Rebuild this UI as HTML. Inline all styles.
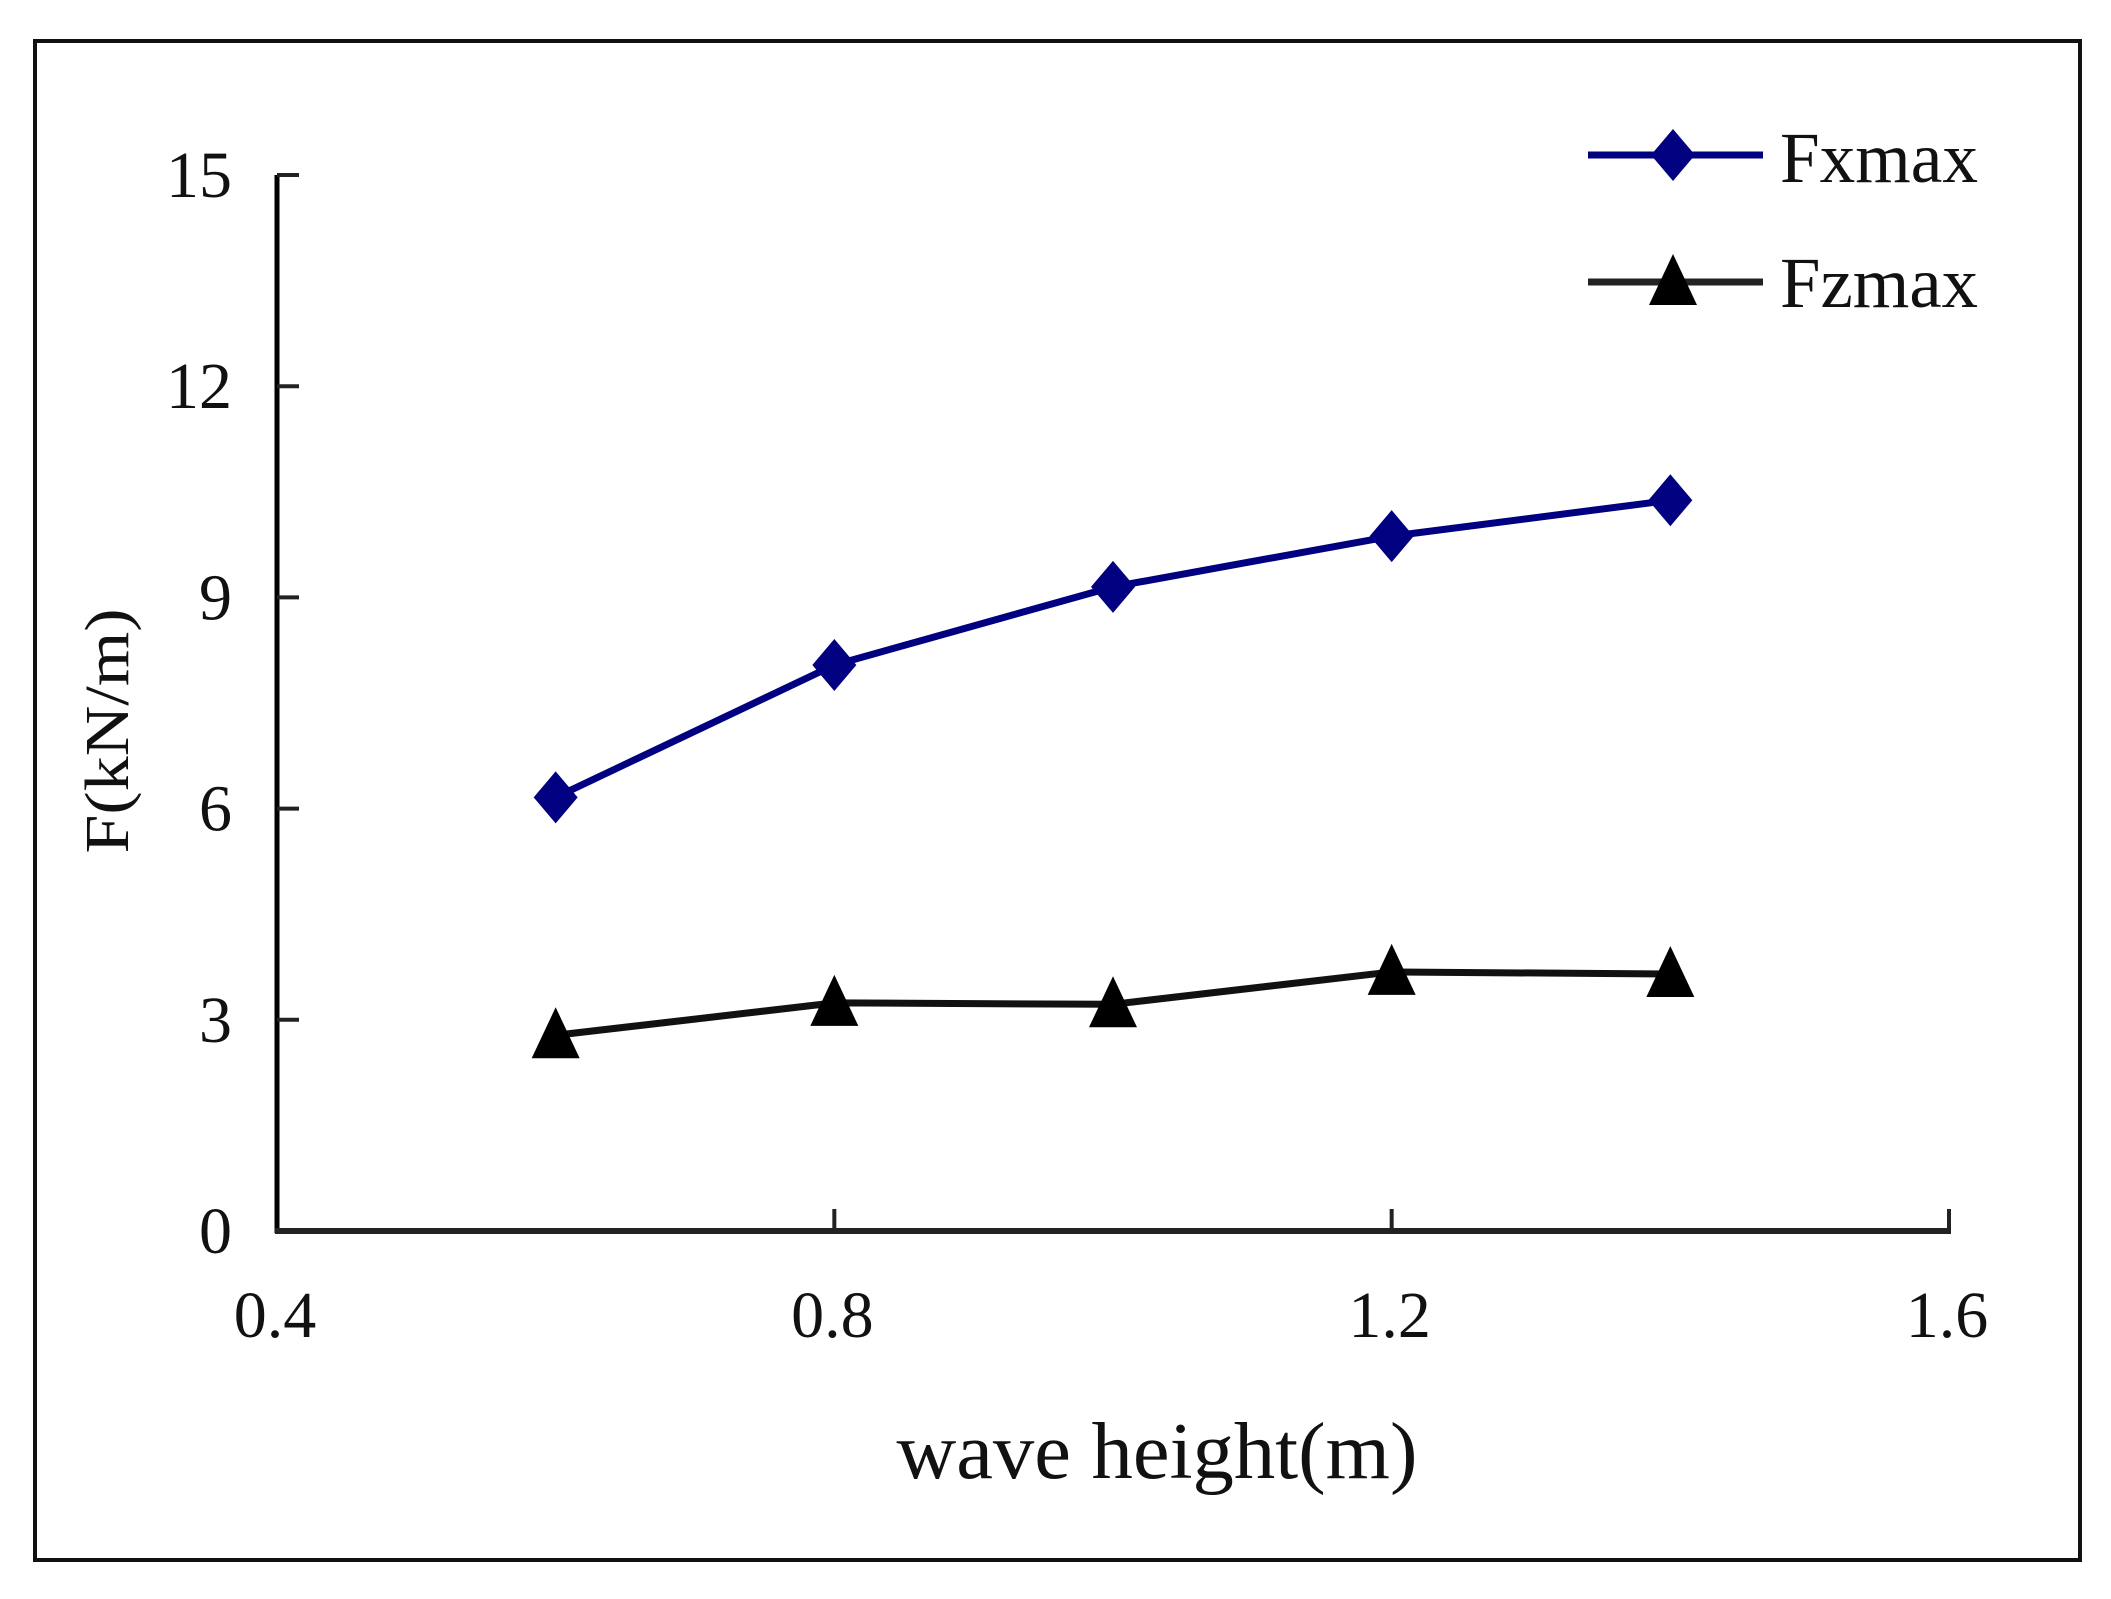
<!DOCTYPE html>
<html><head><meta charset="utf-8">
<style>
html,body{margin:0;padding:0;background:#fff;}
svg{display:block;}
text{font-family:"Liberation Serif",serif;fill:#111;}
</style></head>
<body>
<svg id="chart" width="2111" height="1599" viewBox="0 0 2111 1599" xmlns="http://www.w3.org/2000/svg">
<rect x="35" y="41" width="2045" height="1519" fill="#fff" stroke="#111" stroke-width="4"/>
<g id="axes"></g>
<g id="series"></g>
<g id="legend"></g>
<text x="1157" y="1478" font-size="80" text-anchor="middle" textLength="521" lengthAdjust="spacingAndGlyphs">wave height(m)</text>
<text x="0" y="0" font-size="62" text-anchor="middle" transform="translate(128,731) rotate(-90)" textLength="245" lengthAdjust="spacingAndGlyphs">F(kN/m)</text>
</svg>
<script>
const xCats = [0.6, 0.8, 1.0, 1.2, 1.4];
const fxValues = [6.16, 8.04, 9.15, 9.87, 10.38];
const fzValues = [2.78, 3.24, 3.22, 3.68, 3.65];
const xTicks = [0.4, 0.8, 1.2, 1.6];
const xTickLabels = ["0.4", "0.8", "1.2", "1.6"];
const yTicks = [0, 3, 6, 9, 12, 15];
const yTickLabels = ["0", "3", "6", "9", "12", "15"];

const NS = "http://www.w3.org/2000/svg";
const X0 = 277, X1 = 1949, Y0 = 1231, Y1 = 175;
function xs(v){ return X0 + (v - 0.4) / (1.6 - 0.4) * (X1 - X0); }
function ys(v){ return Y0 - v / 15 * (Y0 - Y1); }
function mk(tag, attrs, parent){
  const e = document.createElementNS(NS, tag);
  for (const k in attrs) e.setAttribute(k, attrs[k]);
  parent.appendChild(e);
  return e;
}
const axes = document.getElementById('axes');
const series = document.getElementById('series');
const legend = document.getElementById('legend');

const yAxis = mk('line', {x1:X0, y1:Y1, x2:X0, y2:Y0+2, stroke:'#000', 'stroke-width':5}, axes);


const xAxis = mk('line', {x1:X0-2, y1:Y0, x2:X1+2, y2:Y0, stroke:'#222', 'stroke-width':6}, axes);



yTicks.forEach((v, i) => {
  const t = mk('line', {x1:X0, y1:ys(v), x2:X0+22, y2:ys(v), stroke:'#222', 'stroke-width':4}, axes);
  
  
  const l = mk('text', {x:232, y:ys(v)+22, 'font-size':66, 'text-anchor':'end'}, axes);
  l.textContent = yTickLabels[i];
  
  
});
xTicks.forEach((v, i) => {
  if (i > 0) {
    const t = mk('line', {x1:xs(v), y1:Y0, x2:xs(v), y2:Y0-22, stroke:'#222', 'stroke-width':4}, axes);
    
    
  }
  const l = mk('text', {x:xs(v)-2, y:1337, 'font-size':66, 'text-anchor':'middle'}, axes);
  l.textContent = xTickLabels[i];
  
  
});

function diamond(cx, cy, parent){
  return mk('polygon', {points:`${cx},${cy-26} ${cx+22},${cy} ${cx},${cy+26} ${cx-22},${cy}`, fill:'#000080'}, parent);
}
function tri(cx, cy, parent){
  return mk('polygon', {points:`${cx},${cy-28} ${cx+24},${cy+23} ${cx-24},${cy+23}`, fill:'#000'}, parent);
}

const fxLine = mk('polyline', {points: xCats.map((x,i)=>`${xs(x)},${ys(fxValues[i])}`).join(' '), fill:'none', stroke:'#000080', 'stroke-width':7, 'stroke-linejoin':'round'}, series);


const fzLine = mk('polyline', {points: xCats.map((x,i)=>`${xs(x)},${ys(fzValues[i])}`).join(' '), fill:'none', stroke:'#111', 'stroke-width':7, 'stroke-linejoin':'round'}, series);


xCats.forEach((x, i) => {
  const d = diamond(xs(x), ys(fxValues[i]), series);
  
  
  const t = tri(xs(x), ys(fzValues[i]), series);
  
  
});

const lg1 = mk('line', {x1:1588, y1:155, x2:1763, y2:155, stroke:'#000080', 'stroke-width':7}, legend);


const lm1 = diamond(1673, 155, legend);


const lt1 = mk('text', {x:1780, y:182, 'font-size':72, textLength:198, lengthAdjust:'spacingAndGlyphs'}, legend);
lt1.textContent = 'Fxmax';


const lg2 = mk('line', {x1:1588, y1:282, x2:1763, y2:282, stroke:'#222', 'stroke-width':7}, legend);


const lm2 = tri(1673, 282, legend);


const lt2 = mk('text', {x:1780, y:307, 'font-size':72, textLength:198, lengthAdjust:'spacingAndGlyphs'}, legend);
lt2.textContent = 'Fzmax';


</script>
</body></html>
